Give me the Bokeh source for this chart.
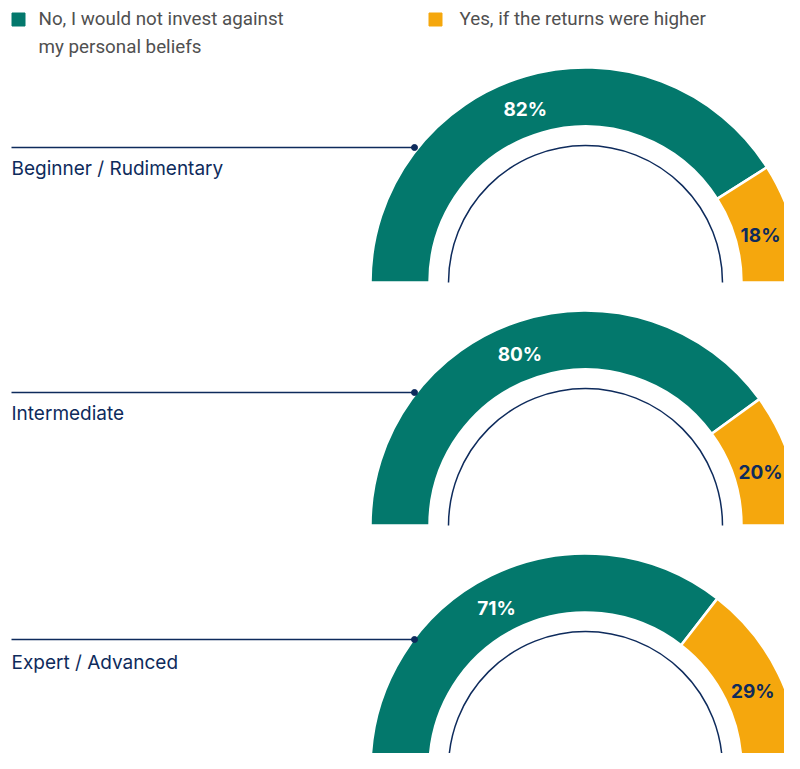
import math
from bokeh.plotting import figure
from bokeh.models import Range1d, ColumnDataSource
from bokeh.core.properties import value
from bokeh.embed import file_html
from bokeh.resources import INLINE

# ---- data ----
categories = ["Beginner / Rudimentary", "Intermediate", "Expert / Advanced"]
no_invest = [82, 80, 71]      # No, I would not invest against my personal beliefs
yes_higher = [18, 20, 29]     # Yes, if the returns were higher
legend_labels = ["No, I would not invest against", "my personal beliefs",
                 "Yes, if the returns were higher"]

# ---- style ----
GREEN = "#03786C"
ORANGE = "#F5A70D"
NAVY = "#0E2B5C"
GREY = "#505050"

W, H = 784, 753
H_PAGE = 769
p = figure(width=W, height=H, output_backend="svg", toolbar_location=None,
           x_range=Range1d(0, W), y_range=Range1d(H_PAGE - H, H_PAGE),
           x_axis_location=None, y_axis_location=None, min_border=0,
           outline_line_color=None, background_fill_color="white")
p.xgrid.visible = False
p.ygrid.visible = False

def Y(sy):
    return H_PAGE - sy

CX = 585
R_OUT, R_IN, R_CIRC = 215, 156, 137
bases = [282, 525, 768]          # screen y of each gauge's base
lead_y = [147, 392, 639]         # screen y of leader lines
label_y = [168, 413, 662]        # screen y of category labels

cx, cy, g_start, o_end = [], [], [], []
for i in range(len(categories)):
    total = no_invest[i] + yes_higher[i]
    frac_o = yes_higher[i] / total
    cx.append(CX)
    cy.append(Y(bases[i]))
    g_start.append(frac_o * math.pi)
    o_end.append(frac_o * math.pi)

src = ColumnDataSource(dict(x=cx, y=cy, g_start=g_start, o_end=o_end,
                            zero=[0.0] * len(cx), pi=[math.pi] * len(cx)))

p.annular_wedge(x="x", y="y", inner_radius=R_IN, outer_radius=R_OUT,
                start_angle="g_start", end_angle="pi", source=src,
                fill_color=GREEN, line_color="white", line_width=2.5)
p.annular_wedge(x="x", y="y", inner_radius=R_IN, outer_radius=R_OUT,
                start_angle="zero", end_angle="o_end", source=src,
                fill_color=ORANGE, line_color="white", line_width=2.5)
p.arc(x="x", y="y", radius=R_CIRC, start_angle="zero", end_angle="pi",
      source=src, line_color=NAVY, line_width=1.5)

# leader lines
ly = [Y(v) for v in lead_y]
p.segment(x0=[11] * 3, y0=ly, x1=[414] * 3, y1=ly, line_color=NAVY, line_width=1.5)
p.scatter(x=[414] * 3, y=ly, size=6, color=NAVY)

# category labels
p.text(x=[11] * 3, y=[Y(v) for v in label_y], text=categories,
       text_font=value("Inter"), text_font_size="19px", text_color=NAVY,
       text_align="left", text_baseline="middle")

# percent labels
gx, gy, gt, ox, oy, ot = [], [], [], [], [], []
for i in range(len(categories)):
    a0 = g_start[i]
    mid_g = (a0 + math.pi) / 2 + math.radians(3)
    mid_o = a0 / 2 - math.radians(1.5)
    gx.append(CX + 183 * math.cos(mid_g)); gy.append(cy[i] + 183 * math.sin(mid_g))
    ox.append(min(CX + 184 * math.cos(mid_o), 760)); oy.append(cy[i] + 186 * math.sin(mid_o))
    gt.append(f"{no_invest[i]}%"); ot.append(f"{yes_higher[i]}%")

p.text(x=gx, y=gy, text=gt, text_font=value("Inter"), text_font_style="bold",
       text_font_size="19px", text_color="white", text_align="center",
       text_baseline="middle")
p.text(x=ox, y=oy, text=ot, text_font=value("Inter"), text_font_style="bold",
       text_font_size="19px", text_color=NAVY, text_align="center",
       text_baseline="middle")

# legend
p.scatter(x=[18, 435], y=[Y(19), Y(19)], marker="square", size=13,
          color=[GREEN, ORANGE])
p.text(x=[38, 38, 459], y=[Y(18), Y(46), Y(18)], text=legend_labels,
       text_font=value("Roboto"), text_font_size="18.8px", text_color=GREY,
       text_align="left", text_baseline="middle")

open("out.html", "w").write(file_html(p, INLINE))
